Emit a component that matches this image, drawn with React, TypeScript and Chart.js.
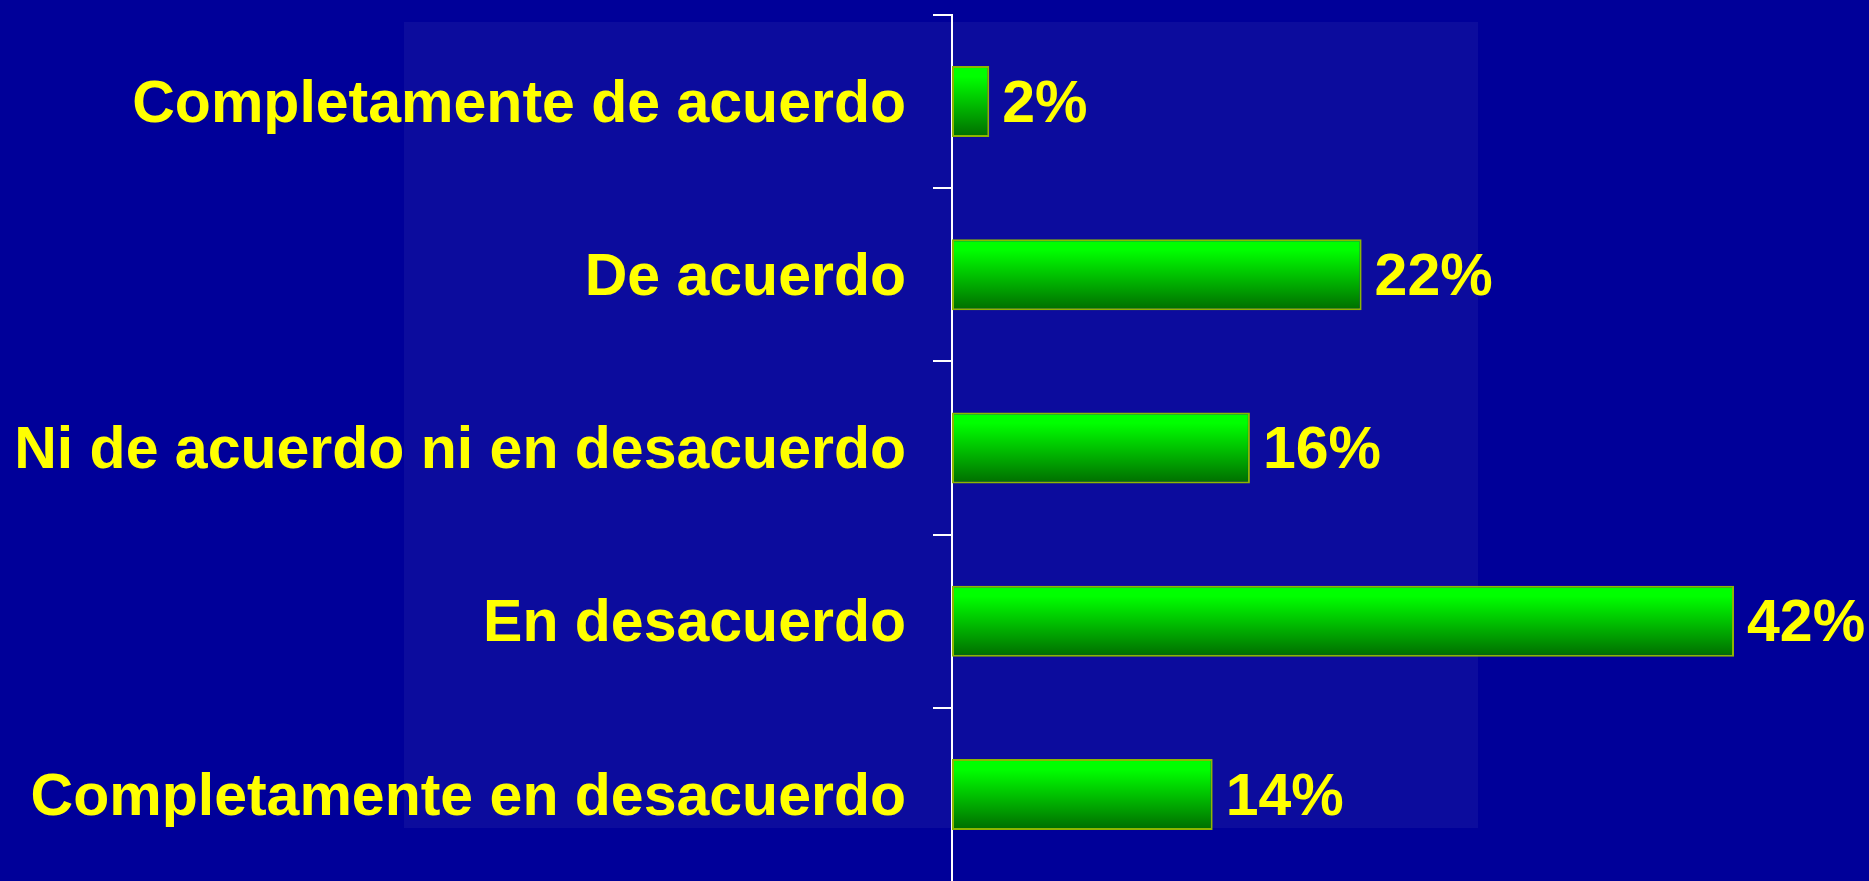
import React, { useEffect, useRef } from "react";
import { Chart, registerables } from "chart.js";

Chart.register(...registerables);

const categories: string[] = [
  "Completamente de acuerdo",
  "De acuerdo",
  "Ni de acuerdo ni en desacuerdo",
  "En desacuerdo",
  "Completamente en desacuerdo",
];
const values: number[] = [2, 22, 16, 42, 14];
const xMin = 0;
const xMax = 49.25;

const FONT = '"Liberation Sans", Arial, Helvetica, sans-serif';
const BG = "#000099";
const PANEL = "#0C0C9D";
const YELLOW = "#FFFF00";

const W = 1869;
const H = 881;

export default function App() {
  const ref = useRef<HTMLCanvasElement | null>(null);

  useEffect(() => {
    document.body.style.margin = "0";
    document.body.style.background = BG;
    const canvas = ref.current;
    if (!canvas) return;

    const bgPlugin = {
      id: "bgPanel",
      beforeDraw(chart: any) {
        const c = chart.ctx;
        c.save();
        c.fillStyle = BG;
        c.fillRect(0, 0, chart.width, chart.height);
        // plot-area panel (decorative background)
        const panel = { left: 404, top: 22, right: 1478, bottom: 828 };
        c.fillStyle = PANEL;
        c.fillRect(panel.left, panel.top, panel.right - panel.left, panel.bottom - panel.top);
        c.restore();
      },
    };

    const valueLabels = {
      id: "valueLabels",
      afterDatasetsDraw(chart: any) {
        const c = chart.ctx;
        const meta = chart.getDatasetMeta(0);
        c.save();
        c.fillStyle = YELLOW;
        c.font = `bold 59px ${FONT}`;
        c.textAlign = "left";
        c.textBaseline = "middle";
        meta.data.forEach((el: any, i: number) => {
          c.fillText(`${values[i]}%`, el.x + 13, el.y + 4);
        });
        c.restore();
      },
    };

    const chart = new Chart(canvas, {
      type: "bar",
      data: {
        labels: categories,
        datasets: [
          {
            data: values,
            backgroundColor: (ctx: any) => {
              const chart = ctx.chart;
              const ys = chart.scales && chart.scales.y;
              if (!ys || !chart.chartArea || ctx.dataIndex === undefined) return "#00C000";
              const center = ys.getPixelForValue(ctx.dataIndex);
              const half = (ys.height / categories.length) * 0.41 / 2;
              const g = chart.ctx.createLinearGradient(0, center - half, 0, center + half);
              g.addColorStop(0, "#00FF00");
              g.addColorStop(0.15, "#00FF00");
              g.addColorStop(1, "#006C00");
              return g;
            },
            borderColor: "#8DB600",
            borderWidth: 2,
            borderSkipped: false,
            barPercentage: 0.41,
            categoryPercentage: 1,
          },
        ],
      },
      options: {
        indexAxis: "y",
        responsive: false,
        animation: false,
        maintainAspectRatio: false,
        layout: { padding: { top: 15, bottom: -3, left: 0, right: 0 } },
        plugins: {
          legend: { display: false },
          tooltip: { enabled: false },
          title: { display: false },
        },
        scales: {
          x: {
            display: false,
            min: xMin,
            max: xMax,
          },
          y: {
            position: "left",
            afterFit: (scale: any) => {
              scale.width = 952;
              scale.paddingTop = 0;
              scale.paddingBottom = 0;
            },
            grid: {
              display: true,
              offset: true,
              drawOnChartArea: false,
              drawTicks: true,
              tickLength: 19,
              color: "#FFFFFF",
              tickColor: (ctx: any) =>
                ctx.index === undefined || ctx.index >= categories.length ? "rgba(0,0,0,0)" : "#FFFFFF",
              lineWidth: 2,
            },
            border: { display: true, color: "#FFFFFF", width: 2 },
            ticks: {
              color: YELLOW,
              padding: 27,
              labelOffset: 4,
              font: { family: FONT, size: 59, weight: "bold" },
            },
          },
        },
      },
      plugins: [bgPlugin, valueLabels],
    } as any);

    return () => chart.destroy();
  }, []);

  return (
    <div style={{ width: W, height: H, background: BG, overflow: "hidden" }}>
      <canvas ref={ref} width={W} height={H} style={{ display: "block", width: W, height: H }} />
    </div>
  );
}
